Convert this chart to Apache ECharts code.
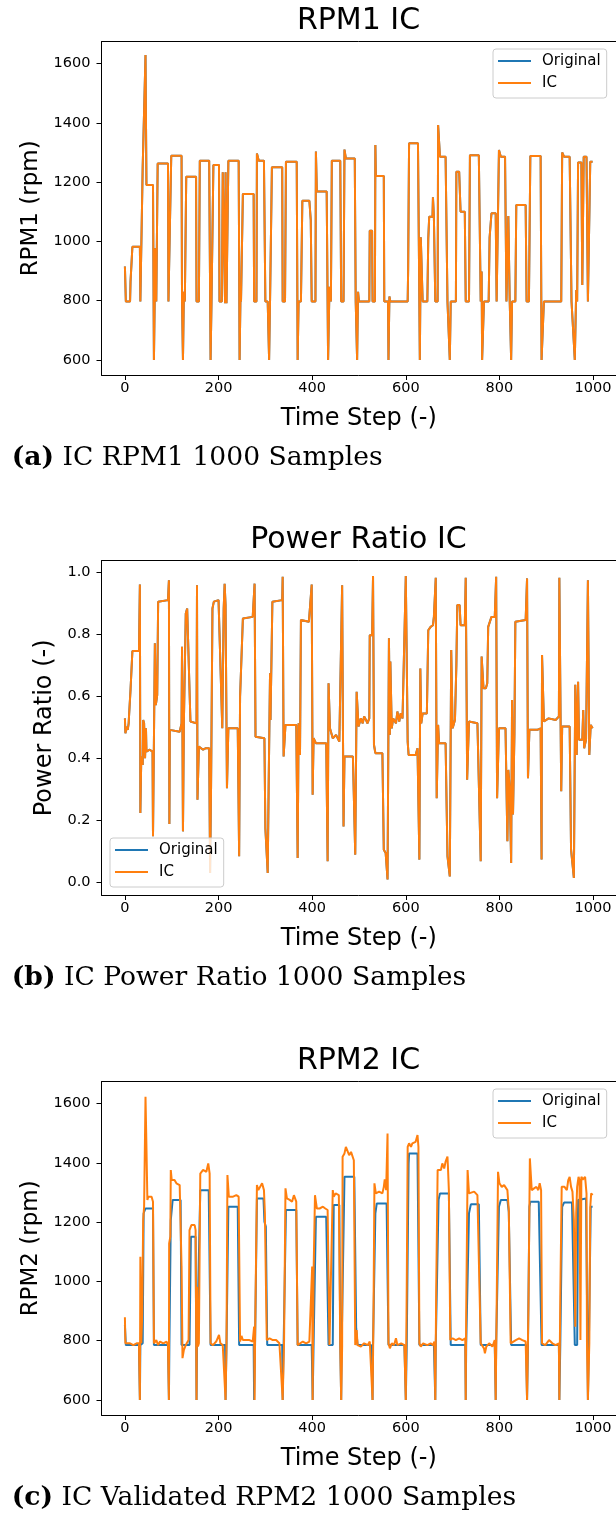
<!DOCTYPE html>
<html><head><meta charset="utf-8">
<script src="https://cdn.jsdelivr.net/npm/echarts@6/dist/echarts.min.js"></script>
<style>html,body{margin:0;padding:0;background:#fff}#c{width:616px;height:1515px}</style>
</head><body><div id="c"></div>
<script>
const xTicks=[0,200,400,600,800,1000];
const rpmTicks=[600,800,1000,1200,1400,1600];
const ratioTicks=[0,0.2,0.4,0.6,0.8,1.0];
const seriesNames=['Original','IC'];

const rpm1IC=[[0,915],[2,797],[11,797],[12,864],[14,864],[16,982],[32,982],[33,797],[36,791],[37,797],[38,1252],[44,1629],[46,1190],[60,1190],[62,600],[64,600],[65,977],[66,864],[67,797],[69,797],[70,1263],[92,1263],[93,797],[97,797],[99,1289],[121,1289],[122,797],[124,600],[126,830],[128,797],[131,1218],[152,1218],[153,797],[158,797],[160,1272],[180,1272],[183,600],[185,797],[188,797],[189,1258],[201,1258],[202,797],[207,797],[209,1233],[212,1233],[214,791],[215,1233],[217,791],[220,797],[221,1272],[243,1272],[245,600],[247,830],[248,797],[251,797],[252,1160],[275,1160],[276,797],[281,797],[282,1297],[286,1272],[297,1272],[300,797],[305,797],[308,600],[310,797],[313,797],[314,1250],[336,1250],[337,797],[342,797],[344,1269],[367,1269],[369,600],[371,797],[376,797],[379,1137],[394,1137],[397,1072],[399,797],[407,797],[408,1303],[410,1168],[431,1168],[434,600],[437,847],[440,797],[441,797],[442,1272],[460,1272],[462,797],[467,797],[469,1310],[472,1280],[491,1280],[493,797],[496,600],[498,830],[500,797],[522,797],[523,1036],[528,1036],[529,797],[534,797],[535,1325],[536,1221],[553,1221],[554,797],[562,797],[563,600],[565,814],[567,797],[604,797],[605,904],[607,1331],[626,1331],[630,600],[632,1014],[636,797],[646,797],[648,1010],[650,1083],[657,1083],[658,1149],[660,1083],[663,797],[668,797],[669,1393],[673,1286],[685,1286],[689,797],[694,600],[696,797],[707,797],[708,1235],[714,1235],[717,1100],[726,1100],[728,797],[735,797],[737,1291],[756,1291],[760,797],[762,898],[763,600],[767,797],[777,797],[779,1013],[783,1095],[792,1095],[794,797],[797,797],[799,1308],[803,1286],[812,1286],[815,797],[819,1086],[822,797],[825,600],[827,797],[834,797],[836,1123],[856,1123],[858,797],[863,797],[866,1288],[888,1288],[890,600],[895,797],[932,797],[934,1300],[938,1286],[950,1286],[954,797],[961,600],[964,836],[966,797],[968,1266],[975,1266],[977,853],[980,1286],[986,1286],[989,797],[993,797],[994,1269],[999,1269]];
const rpm1Original=rpm1IC;

const ratioIC=[[0,0.528],[1,0.480],[4,0.501],[6,0.491],[8,0.512],[9,0.541],[11,0.539],[12,0.620],[14,0.625],[16,0.745],[30,0.745],[32,0.959],[33,0.223],[35,0.405],[38,0.378],[39,0.523],[41,0.512],[43,0.400],[45,0.496],[46,0.421],[53,0.427],[59,0.421],[60,0.148],[62,0.148],[64,0.770],[66,0.571],[69,0.603],[71,0.904],[75,0.909],[92,0.909],[94,0.973],[95,0.188],[96,0.491],[117,0.485],[121,0.512],[122,0.759],[124,0.164],[126,0.518],[129,0.518],[130,0.866],[133,0.882],[137,0.882],[140,0.518],[153,0.512],[154,0.957],[155,0.266],[158,0.437],[167,0.427],[173,0.432],[180,0.432],[182,0.030],[184,0.303],[187,0.882],[190,0.904],[200,0.909],[202,0.904],[208,0.496],[211,0.882],[213,0.962],[215,0.893],[218,0.303],[221,0.496],[241,0.496],[244,0.084],[246,0.598],[252,0.850],[273,0.855],[277,0.962],[279,0.469],[298,0.464],[300,0.175],[305,0.030],[307,0.303],[310,0.673],[311,0.523],[315,0.904],[336,0.909],[337,0.984],[339,0.405],[343,0.507],[366,0.507],[369,0.078],[371,0.512],[374,0.410],[376,0.845],[393,0.839],[399,0.959],[401,0.282],[403,0.464],[408,0.448],[430,0.448],[433,0.068],[435,0.641],[438,0.496],[444,0.464],[451,0.475],[458,0.453],[464,0.957],[467,0.180],[469,0.405],[487,0.405],[490,0.410],[492,0.089],[495,0.614],[499,0.502],[504,0.528],[508,0.512],[511,0.534],[515,0.523],[518,0.512],[522,0.528],[523,0.796],[528,0.796],[530,0.987],[532,0.443],[535,0.416],[550,0.416],[553,0.105],[557,0.094],[561,0.009],[564,0.786],[566,0.475],[567,0.711],[570,0.496],[573,0.528],[579,0.512],[582,0.550],[586,0.518],[589,0.544],[593,0.528],[597,0.528],[600,0.987],[604,0.453],[606,0.410],[621,0.410],[625,0.432],[629,0.073],[631,0.689],[633,0.512],[636,0.544],[645,0.544],[648,0.812],[653,0.823],[658,0.828],[660,0.855],[664,0.981],[666,0.271],[669,0.507],[671,0.448],[685,0.448],[689,0.084],[694,0.019],[697,0.748],[700,0.496],[705,0.523],[708,0.700],[710,0.893],[715,0.893],[717,0.828],[726,0.828],[728,0.981],[730,0.582],[731,0.330],[735,0.518],[739,0.512],[753,0.512],[760,0.068],[762,0.727],[766,0.625],[771,0.625],[774,0.641],[776,0.823],[783,0.855],[790,0.855],[793,0.984],[795,0.271],[799,0.496],[813,0.496],[817,0.132],[819,0.362],[822,0.303],[825,0.062],[827,0.587],[829,0.218],[832,0.475],[834,0.839],[838,0.845],[856,0.845],[859,0.979],[861,0.335],[864,0.491],[881,0.491],[888,0.496],[890,0.073],[891,0.732],[895,0.518],[905,0.528],[920,0.523],[927,0.534],[928,0.981],[932,0.293],[934,0.502],[950,0.502],[953,0.105],[959,0.014],[962,0.636],[965,0.410],[968,0.646],[970,0.459],[977,0.459],[979,0.555],[981,0.432],[985,0.459],[989,0.973],[992,0.410],[995,0.507],[999,0.496]];
const ratioOriginal=ratioIC;

const rpm2Original=[[0,853],[2,785],[30,785],[32,600],[33,785],[38,791],[40,1230],[44,1246],[60,1246],[62,785],[92,785],[94,600],[95,785],[98,1207],[102,1275],[119,1275],[121,785],[138,785],[141,1151],[151,1151],[153,600],[154,785],[158,785],[161,1308],[179,1308],[183,785],[214,785],[215,600],[217,785],[221,1252],[241,1252],[244,785],[275,785],[276,600],[278,785],[282,1280],[296,1280],[298,1201],[301,1185],[304,785],[336,785],[337,600],[339,785],[344,1241],[366,1241],[369,785],[399,785],[401,600],[403,785],[408,1218],[430,1218],[435,785],[444,785],[446,1258],[458,1258],[460,785],[462,600],[463,785],[469,1353],[490,1353],[494,842],[497,785],[526,785],[529,600],[530,785],[535,1230],[538,1263],[559,1263],[563,785],[597,785],[600,600],[602,785],[606,1398],[607,1432],[625,1432],[629,785],[660,785],[663,600],[664,785],[670,1275],[673,1297],[692,1297],[696,785],[727,785],[728,600],[729,785],[735,1230],[739,1260],[756,1260],[760,785],[790,785],[792,600],[793,785],[799,1252],[803,1275],[817,1275],[820,1235],[825,785],[857,785],[859,600],[861,785],[864,1252],[866,1269],[884,1269],[890,785],[927,785],[928,600],[930,785],[934,1252],[938,1266],[955,1266],[961,785],[966,785],[968,1275],[970,1280],[985,1280],[988,785],[989,600],[991,785],[995,1252],[999,1252]];

const rpm2IC=[[0,879],[1,791],[4,785],[11,791],[18,785],[25,791],[28,797],[30,791],[32,600],[33,1083],[35,791],[37,892],[39,1207],[41,1252],[44,1623],[46,1454],[48,1275],[50,1286],[53,1280],[57,1286],[60,1269],[62,791],[67,802],[71,785],[75,797],[82,791],[89,797],[92,785],[94,600],[94.5,1128],[97,1151],[98,1376],[100,1342],[103,1336],[106,1342],[110,1331],[114,1336],[117,1325],[120,1319],[121,1050],[123,741],[126,769],[130,785],[133,791],[136,802],[138,1173],[142,1190],[149,1190],[151,1173],[153,600],[154,982],[156,780],[158,791],[161,1364],[164,1370],[167,1376],[170,1381],[174,1370],[178,1398],[179,1387],[181,1364],[183,791],[188,785],[195,797],[201,819],[204,791],[209,785],[215,600],[217,791],[219,1359],[222,1286],[226,1291],[231,1286],[238,1291],[243,1286],[246,797],[249,816],[252,802],[259,802],[266,802],[273,797],[276,847],[277,600],[278,802],[282,1325],[285,1308],[289,1308],[293,1331],[297,1308],[299,1230],[301,1235],[303,802],[309,808],[316,802],[323,802],[330,791],[334,785],[337,600],[340,802],[343,1314],[346,1280],[352,1275],[357,1269],[361,1291],[364,1297],[366,1269],[369,785],[373,791],[380,797],[387,791],[394,797],[398,802],[400,1050],[401,600],[403,1027],[406,1291],[410,1246],[416,1246],[423,1252],[428,1246],[431,1252],[433,1241],[437,785],[440,791],[444,1308],[446,1286],[450,1297],[453,1303],[457,1291],[458,1297],[460,780],[462,600],[464,780],[465,1421],[469,1432],[472,1454],[476,1460],[479,1426],[483,1437],[487,1443],[489,1409],[492,785],[495,836],[497,785],[504,780],[511,791],[519,785],[523,797],[526,802],[529,600],[531,892],[533,1331],[536,1297],[540,1291],[543,1303],[547,1297],[550,1297],[553,1319],[555,1344],[558,1308],[561,1499],[563,791],[566,774],[570,791],[575,785],[579,808],[582,785],[590,791],[597,785],[600,600],[602,982],[604,1454],[607,1466],[611,1454],[614,1466],[618,1460],[621,1471],[625,1494],[627,1454],[629,791],[632,780],[637,791],[641,797],[646,785],[653,791],[658,785],[661,797],[663,600],[665,982],[668,1376],[671,1381],[675,1376],[678,1398],[682,1381],[685,1404],[689,1421],[690,1387],[692,1308],[695,802],[700,808],[707,802],[714,808],[721,802],[727,808],[728,600],[729,892],[732,1376],[735,1297],[739,1291],[746,1303],[753,1291],[756,1297],[760,791],[763,785],[767,774],[769,757],[772,780],[778,791],[785,780],[790,802],[792,600],[794,904],[797,1370],[800,1331],[805,1319],[810,1325],[813,1319],[817,1308],[820,1241],[824,791],[827,797],[835,802],[842,808],[849,802],[856,797],[859,600],[862,915],[865,1415],[869,1308],[874,1314],[879,1319],[883,1308],[886,1331],[889,1308],[891,791],[898,785],[906,802],[913,791],[920,785],[927,791],[928,600],[930,949],[933,1319],[939,1319],[944,1308],[947,1342],[950,1353],[953,1319],[956,1303],[959,1207],[962,847],[964,1230],[966,1319],[969,1353],[971,1342],[973,802],[975,1353],[978,1344],[980,1342],[983,1353],[986,1297],[987,791],[989,600],[992,791],[994,1252],[996,1297],[999,1291]];

const titles=['RPM1 IC','Power Ratio IC','RPM2 IC'];
const yNames=['RPM1 (rpm)','Power Ratio (-)','RPM2 (rpm)'];
const captions=[['(a)','IC RPM1 1000 Samples'],['(b)','IC Power Ratio 1000 Samples'],['(c)','IC Validated RPM2 1000 Samples']];

const BLUE='#1f77b4', ORANGE='#ff7f0e';
const FONT='DejaVu Sans';
const gridTops=[41.7,560.7,1081.7];
const gridHeights=[333.3,334.3,333.3];
const yRanges=[[549,1674],[-0.041,1.036],[549,1674]];
const yTickSets=[rpmTicks,ratioTicks,rpmTicks];
const yNameGaps=[56,42,56];
const legendPos=[[493,49],[110,838],[493,1089]];
const axisLineStyle={color:'#000',width:1};

const grids=[],xAxes=[],yAxes=[],series=[],legends=[],graphics=[];
for(let i=0;i<3;i++){
  grids.push({left:101.5,top:gridTops[i],width:514.5,height:gridHeights[i],show:false});
  xAxes.push({type:'value',gridIndex:i,min:-50,max:1049,position:'bottom',
    axisLine:{show:true,onZero:false,lineStyle:axisLineStyle},
    axisTick:{show:true,length:5,customValues:xTicks,lineStyle:axisLineStyle},
    axisLabel:{customValues:xTicks,color:'#000',fontSize:14.5,fontFamily:FONT,margin:6,formatter:v=>String(Math.round(v))},
    splitLine:{show:false},
    name:'Time Step (-)',nameLocation:'middle',nameGap:32,
    nameTextStyle:{fontSize:24,color:'#000',fontFamily:FONT}});
  const isRatio=i===1;
  yAxes.push({type:'value',gridIndex:i,min:yRanges[i][0],max:yRanges[i][1],position:'left',
    axisLine:{show:true,onZero:false,lineStyle:axisLineStyle},
    axisTick:{show:true,length:5,customValues:yTickSets[i],lineStyle:axisLineStyle},
    axisLabel:{customValues:yTickSets[i],color:'#000',fontSize:14.5,fontFamily:FONT,margin:11,
      formatter:isRatio?(v=>Number(v).toFixed(1)):(v=>String(Math.round(v)))},
    splitLine:{show:false},
    name:yNames[i],nameLocation:'middle',nameGap:yNameGaps[i],
    nameTextStyle:{fontSize:isRatio?24:23,color:'#000',fontFamily:FONT}});
  legends.push({show:true,orient:'vertical',left:legendPos[i][0],top:legendPos[i][1],
    data:seriesNames,icon:'rect',itemWidth:33,itemHeight:2,itemGap:6,padding:[4,6,7,5],
    textStyle:{fontSize:15,color:'#000',fontFamily:FONT,lineHeight:16,padding:[0,0,0,6]},
    backgroundColor:'rgba(255,255,255,0.8)',borderColor:'#cccccc',borderWidth:1,borderRadius:3,
    selectedMode:false});
  graphics.push({type:'text',x:358.5,y:gridTops[i]-20.8,z:10,
    style:{text:titles[i],fontSize:30,fontFamily:FONT,fill:'#000',align:'center',verticalAlign:'middle',textAlign:'center',textVerticalAlign:'middle'}});
  graphics.push({type:'text',x:11.7,y:gridTops[i]+gridHeights[i]+83,z:10,
    style:{text:'{b|'+captions[i][0]+'} '+captions[i][1],fontSize:26.6,fontFamily:'DejaVu Serif',fill:'#000',
      align:'left',verticalAlign:'middle',textAlign:'left',textVerticalAlign:'middle',
      rich:{b:{fontWeight:'bold',fontSize:26.6,fontFamily:'DejaVu Serif',fill:'#000'}}}});
}
// top frame lines of each axes box (the right spine lies outside the picture)
for(let i=0;i<3;i++){
  xAxes.push({type:'value',gridIndex:i,min:-50,max:1049,position:'top',
    axisLine:{show:true,onZero:false,lineStyle:axisLineStyle},
    axisTick:{show:false},axisLabel:{show:false},splitLine:{show:false}});
}
const dataSets=[[rpm1Original,rpm1IC],[ratioOriginal,ratioIC],[rpm2Original,rpm2IC]];
for(let i=0;i<3;i++){
  series.push({type:'line',name:seriesNames[0],xAxisIndex:i,yAxisIndex:i,data:dataSets[i][0],
    symbol:'none',showSymbol:false,lineStyle:{width:2,color:BLUE},itemStyle:{color:BLUE},color:BLUE,z:2,clip:true});
  series.push({type:'line',name:seriesNames[1],xAxisIndex:i,yAxisIndex:i,data:dataSets[i][1],
    symbol:'none',showSymbol:false,lineStyle:{width:2,color:ORANGE},itemStyle:{color:ORANGE},color:ORANGE,z:3,clip:true});
}
const chart=echarts.init(document.getElementById('c'),null,{renderer:'canvas'});
chart.setOption({animation:false,backgroundColor:'#fff',textStyle:{fontFamily:FONT},
  grid:grids,xAxis:xAxes,yAxis:yAxes,series:series,legend:legends,graphic:graphics});
</script></body></html>
